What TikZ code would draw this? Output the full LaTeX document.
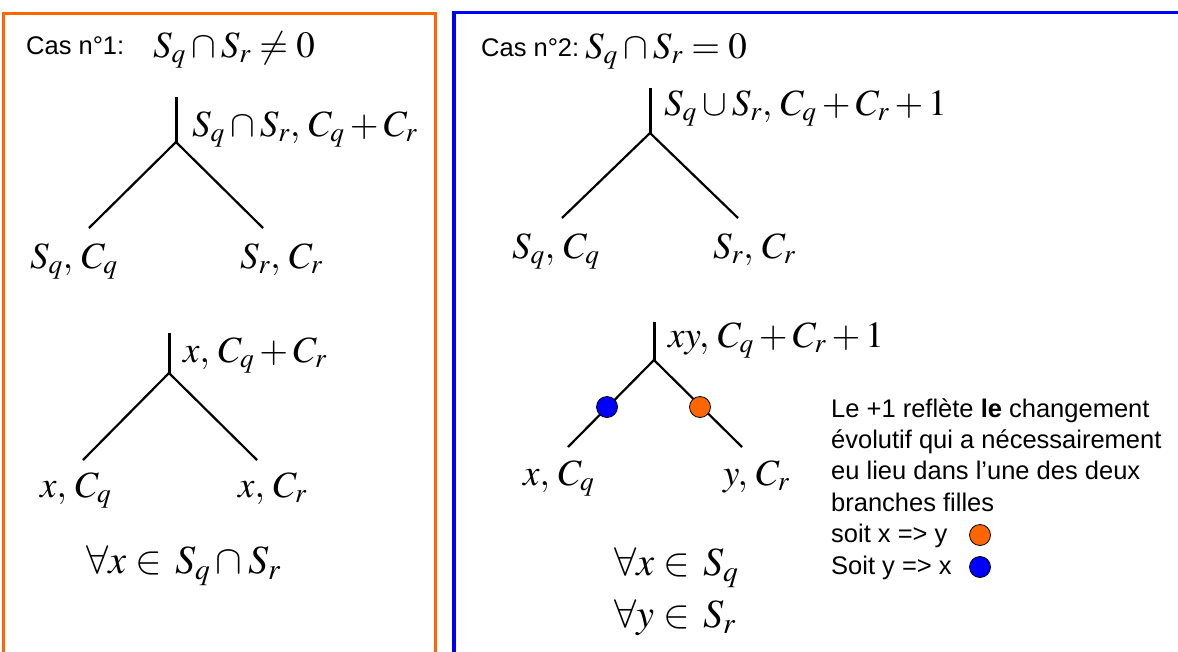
\documentclass[tikz,border=0pt]{standalone}
\usepackage{mathptmx}
\usepackage[no-math]{fontspec}
\setmainfont{Liberation Sans}
\definecolor{boxorange}{HTML}{FF6600}
\definecolor{boxblue}{HTML}{0000FF}
\tikzset{
  framebox/.style={line width=3.3pt},
  stem/.style={line width=3pt},
  leg/.style={line width=2.2pt},
  mlab/.style={inner sep=0pt, anchor=base west, font=\fontsize{37}{41}\selectfont},
  qlab/.style={inner sep=0pt, anchor=base west, font=\fontsize{40}{44}\selectfont},
  tlab/.style={inner sep=0pt, anchor=base west, font=\fontsize{25.5}{31}\selectfont},
  dot/.style={circle, draw=black, line width=0.8pt, minimum size=21pt, inner sep=0pt},
}
\begin{document}
\begin{tikzpicture}[x=1pt,y=-1pt]
\useasboundingbox (0,0) rectangle (1178,651);
\begin{scope}
  \clip (0,0) rectangle (1178,651);
  \draw[framebox, boxorange] (3.3,13.3) rectangle (435.7,700);
  \draw[framebox, boxblue] (454,12.5) rectangle (1220,700);
\end{scope}

% ---- Case 1 ----
\node[tlab] (cas1) at (26,54) {Cas n°1:};
\node[mlab] (cond1) at (153,57) {$S_q\cap S_r\neq 0$};

\coordinate (t1top) at (176,97);
\coordinate (t1j) at (176,142);
\coordinate (t1l) at (89,228);
\coordinate (t1r) at (263,228);
\draw[stem] (t1top) -- (t1j);
\draw[leg] (t1l) -- (t1j) -- (t1r);
\node[mlab] (t1lab) at (192,136) {$S_q\cap S_r,\, C_q+C_r$};
\node[mlab] (t1ll) at (30,268) {$S_q,\, C_q$};
\node[mlab] (t1rl) at (240,268) {$S_r,\, C_r$};

\coordinate (t2top) at (169,333);
\coordinate (t2j) at (169,373);
\coordinate (t2l) at (83,460);
\coordinate (t2r) at (257,460);
\draw[stem] (t2top) -- (t2j);
\draw[leg] (t2l) -- (t2j) -- (t2r);
\node[mlab] (t2lab) at (183,362) {$x,\, C_q+C_r$};
\node[mlab] (t2ll) at (40,497) {$x,\, C_q$};
\node[mlab] (t2rl) at (238,497) {$x,\, C_r$};
\node[qlab] (fa1) at (86,573) {$\forall x\in\, S_q\cap S_r$};

% ---- Case 2 ----
\node[tlab] (cas2) at (481,56) {Cas n°2:};
\node[mlab] (cond2) at (585,58) {$S_q\cap S_r=0$};

\coordinate (t3top) at (650,88);
\coordinate (t3j) at (650,133);
\coordinate (t3l) at (562,218);
\coordinate (t3r) at (738,218);
\draw[stem] (t3top) -- (t3j);
\draw[leg] (t3l) -- (t3j) -- (t3r);
\node[mlab] (t3lab) at (664,115) {$S_q\cup S_r,\, C_q+C_r+1$};
\node[mlab] (t3ll) at (512,258) {$S_q,\, C_q$};
\node[mlab] (t3rl) at (713,258) {$S_r,\, C_r$};

\coordinate (t4top) at (654,322);
\coordinate (t4j) at (654,360);
\coordinate (t4l) at (568,447);
\coordinate (t4r) at (742,447);
\draw[stem] (t4top) -- (t4j);
\draw[leg] (t4l) -- (t4j) -- (t4r);
\node[dot, fill=boxblue] (bdot) at (607,407) {};
\node[dot, fill=boxorange] (odot) at (700,407) {};
\node[mlab] (t4lab) at (668,347) {$xy,\, C_q+C_r+1$};
\node[mlab] (t4ll) at (523,485) {$x,\, C_q$};
\node[mlab] (t4rl) at (723,485) {$y,\, C_r$};
\node[qlab] (fa2) at (614,575) {$\forall x\in\, S_q$};
\node[qlab] (fa3) at (614,627) {$\forall y\in\, S_r$};

% ---- explanation ----
\node[tlab] (l1) at (831,417) {Le +1 reflète \textbf{le} changement};
\node[tlab] (l2) at (831,448.4) {évolutif qui a nécessairement};
\node[tlab] (l3) at (831,479.8) {eu lieu dans l’une des deux};
\node[tlab] (l4) at (831,511.2) {branches filles};
\node[tlab] (l5) at (831,542.6) {soit x => y};
\node[tlab] (l6) at (831,574) {Soit y => x};
\node[dot, fill=boxorange] (lodot) at (980,535) {};
\node[dot, fill=boxblue] (lbdot) at (980,567) {};
\end{tikzpicture}
\end{document}
